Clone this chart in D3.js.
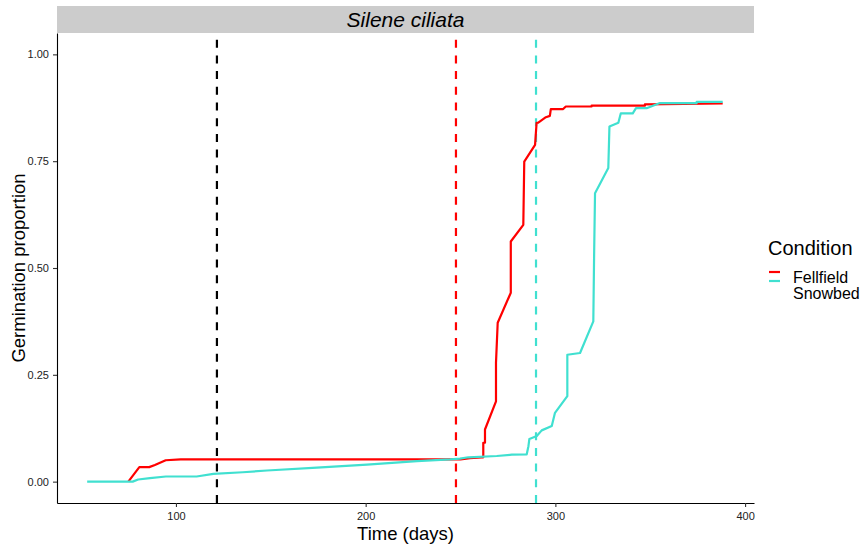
<!DOCTYPE html>
<html>
<head>
<meta charset="utf-8">
<script src="https://cdn.jsdelivr.net/npm/d3@7"></script>
<style>
  body { margin: 0; background: #fff; }
  text { font-family: "Liberation Sans", Arial, sans-serif; }
</style>
</head>
<body>
<div id="chart"></div>
<script>
// data
var fellTime = [74.9, 80.7, 85.9, 88.9, 94.6, 102.5, 250, 255, 261, 262.0, 262.0, 262.9, 262.9, 268.7, 268.7, 269.6,
    276.5, 276.5, 283.1, 283.6, 289.3, 290.1, 291.0, 295.0, 297.1, 297.6, 304.1, 305.5, 319.1, 319.1, 347.2, 347.2, 388.2];
var fellProp = [0, 0.034, 0.034, 0.039, 0.050, 0.052, 0.052, 0.055, 0.057, 0.057, 0.091, 0.091, 0.122, 0.188, 0.278, 0.372,
    0.442, 0.562, 0.601, 0.749, 0.788, 0.840, 0.840, 0.853, 0.856, 0.872, 0.872, 0.878, 0.878, 0.880, 0.880, 0.883, 0.885];

var snowTime = [53.2, 77.2, 80.1, 86.3, 94.7, 110.9, 119.7, 135.2, 148.0, 174.3, 200.7, 227.1, 244.5, 249.7, 254.1, 269.1,
    277.0, 284.9, 285.8, 286.3, 290.2, 292.8, 298.1, 299.8, 306.3, 306.3, 313.0, 320.0, 320.4, 320.9, 327.9, 328.5,
    333.2, 334.5, 340.8, 342.5, 348.1, 355.1, 374.5, 374.5, 388.2];
var snowProp = [0, 0, 0.005, 0.008, 0.012, 0.012, 0.018, 0.022, 0.026, 0.033, 0.040, 0.048, 0.052, 0.054, 0.057, 0.060,
    0.063, 0.064, 0.083, 0.100, 0.107, 0.120, 0.130, 0.161, 0.200, 0.297, 0.301, 0.375, 0.523, 0.675, 0.734, 0.831,
    0.840, 0.862, 0.862, 0.874, 0.874, 0.886, 0.886, 0.889, 0.889];

var conditions = ["Fellfield", "Snowbed"];
var colors = ["#ff0000", "#40e0d0"];
var vlineTimes = [121.6, 247.6, 289.8];
var vlineColors = ["#000000", "#ff0000", "#40e0d0"];
var xTicks = [100, 200, 300, 400];
var yTicks = [0, 0.25, 0.5, 0.75, 1];

var svgWidth = 866;
var svgHeight = 550;

var margin = { top: 33, right: 112, bottom: 47, left: 57 };
var width = svgWidth - margin.left - margin.right;
var height = svgHeight - margin.top - margin.bottom;

var svg = d3.select("#chart")
    .append("svg")
    .attr("width", svgWidth)
    .attr("height", svgHeight);

var chartGroup = svg.append("g")
    .attr("transform", `translate(${margin.left}, ${margin.top})`);

// scales (ggplot style 5% expansion)
var xScale = d3.scaleLinear()
    .domain([37.3, 404.7])
    .range([0, width]);

var yScale = d3.scaleLinear()
    .domain([-0.05, 1.05])
    .range([height, 0]);

// strip on top
svg.append("rect")
    .attr("x", margin.left)
    .attr("y", 6)
    .attr("width", width)
    .attr("height", margin.top - 6)
    .attr("fill", "#cccccc");

svg.append("text")
    .attr("x", margin.left + width / 2)
    .attr("y", 26.5)
    .attr("text-anchor", "middle")
    .attr("font-size", "21px")
    .attr("font-style", "italic")
    .attr("fill", "#000")
    .text("Silene ciliata");

// dashed vertical lines, drawn bottom-up so dashes start at the axis
chartGroup.selectAll(".vline")
    .data(vlineTimes)
    .enter()
    .append("line")
    .attr("class", "vline")
    .attr("x1", d => xScale(d))
    .attr("x2", d => xScale(d))
    .attr("y1", height)
    .attr("y2", 0)
    .attr("stroke", (d, i) => vlineColors[i])
    .attr("stroke-width", 2.2)
    .attr("stroke-dasharray", "8,7.7");

// curves
var series = [
    { times: fellTime, props: fellProp },
    { times: snowTime, props: snowProp }
];

var line = d3.line()
    .x(d => xScale(d[0]))
    .y(d => yScale(d[1]));

series.forEach(function (s, i) {
    var pts = s.times.map((t, j) => [t, s.props[j]]);
    chartGroup.append("path")
        .datum(pts)
        .attr("d", line)
        .attr("fill", "none")
        .attr("stroke", colors[i])
        .attr("stroke-width", 2.2)
        .attr("stroke-linejoin", "round");
});

// axes
var bottomAxis = d3.axisBottom(xScale).tickValues(xTicks).tickSize(4).tickPadding(5).tickSizeOuter(0);
var leftAxis = d3.axisLeft(yScale).tickValues(yTicks).tickFormat(d3.format(".2f")).tickSize(4).tickPadding(4).tickSizeOuter(0);

var xAxisG = chartGroup.append("g")
    .attr("transform", `translate(0, ${height})`)
    .call(bottomAxis);

var yAxisG = chartGroup.append("g")
    .call(leftAxis);

[xAxisG, yAxisG].forEach(function (g) {
    g.select(".domain").attr("stroke", "#000").attr("stroke-width", 1.1);
    g.selectAll(".tick line").attr("stroke", "#333").attr("stroke-width", 1.1);
    g.selectAll(".tick text")
        .attr("font-size", "11px")
        .attr("font-family", "'Liberation Sans', Arial, sans-serif")
        .attr("fill", "#222");
});

// axis titles
svg.append("text")
    .attr("x", margin.left + width / 2)
    .attr("y", 540)
    .attr("text-anchor", "middle")
    .attr("font-size", "18.5px")
    .attr("fill", "#000")
    .text("Time (days)");

svg.append("text")
    .attr("transform", `translate(25, ${margin.top + height / 2}) rotate(-90)`)
    .attr("text-anchor", "middle")
    .attr("font-size", "18.5px")
    .attr("fill", "#000")
    .text("Germination proportion");

// legend
var legend = svg.append("g");

legend.append("text")
    .attr("x", 768)
    .attr("y", 255)
    .attr("font-size", "20px")
    .attr("fill", "#000")
    .text("Condition");

var keyY = [272, 281];
var labelY = [282.5, 299];

conditions.forEach(function (c, i) {
    legend.append("line")
        .attr("x1", 769)
        .attr("x2", 780)
        .attr("y1", keyY[i])
        .attr("y2", keyY[i])
        .attr("stroke", colors[i])
        .attr("stroke-width", 2.2);
    legend.append("text")
        .attr("x", 793)
        .attr("y", labelY[i])
        .attr("font-size", "16px")
        .attr("fill", "#000")
        .text(c);
});
</script>
</body>
</html>
